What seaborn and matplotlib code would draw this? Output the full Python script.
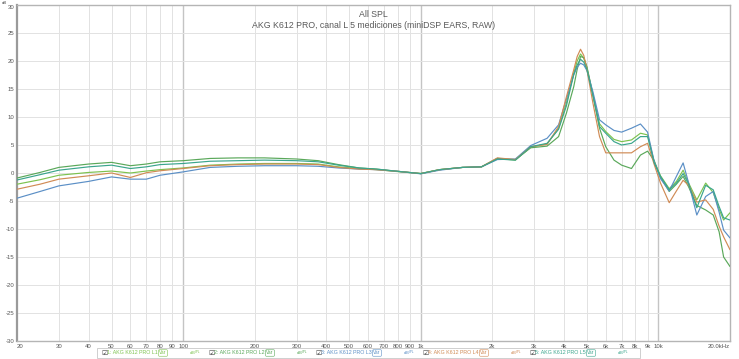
import numpy as np
import pandas as pd
import matplotlib
matplotlib.use("Agg")
import matplotlib.pyplot as plt
import seaborn as sns
from matplotlib.patches import Rectangle

# ---------------- data ----------------
freqs = [20, 25, 30, 40, 50, 60, 70, 80, 100, 130, 170, 220, 300, 370, 450, 550, 650, 800,
         1000, 1200, 1500, 1800, 2100, 2500, 2900, 3400, 3800, 4100, 4400, 4550, 4700, 4850,
         5000, 5300, 5650, 6000, 6500, 7000, 7700, 8400, 9000, 9600,
         10200, 11100, 11900, 12700, 13400, 14500, 15800, 17000, 18000, 18800, 20000]

l1 = [-2.0, -1.2, -0.4, 0.1, 0.35, 0.0, 0.35, 0.6, 0.9, 1.4, 1.6, 1.7, 1.7, 1.6, 1.1, 0.8, 0.6, 0.25,
      -0.1, 0.6, 1.0, 1.1, 2.6, 2.3, 4.6, 5.2, 8.0, 12.5, 17.8, 20.0, 21.25, 20.5,
      18.8, 14.0, 8.8, 7.4, 6.0, 5.6, 5.9, 7.1, 6.8, 2.0,
      -0.5, -2.8, -1.5, 0.5, -1.8, -4.8, -1.8, -3.5, -6.5, -8.4, -7.1]
l2 = [-0.9, 0.1, 1.0, 1.6, 1.9, 1.3, 1.6, 2.0, 2.2, 2.6, 2.7, 2.7, 2.5, 2.2, 1.5, 0.9, 0.7, 0.3,
      -0.1, 0.6, 1.0, 1.1, 2.6, 2.4, 4.5, 4.8, 6.5, 10.7, 15.4, 18.5, 20.8, 20.6,
      19.0, 14.0, 8.0, 4.7, 2.3, 1.4, 0.8, 3.2, 3.9, 2.2,
      -0.8, -3.3, -2.0, -0.6, -2.5, -5.8, -6.6, -7.5, -10.5, -15.0, -16.7]
l3 = [-4.5, -3.3, -2.3, -1.5, -0.7, -1.1, -1.1, -0.4, 0.2, 1.0, 1.2, 1.3, 1.3, 1.2, 0.9, 0.7, 0.6, 0.3,
      -0.15, 0.5, 1.0, 1.1, 2.4, 2.5, 4.9, 6.2, 8.6, 13.2, 17.5, 18.9, 19.6, 19.3,
      18.3, 14.5, 9.5, 8.6, 7.6, 7.3, 8.0, 8.75, 7.3, 2.0,
      -1.0, -3.2, -0.6, 1.8, -1.8, -7.5, -4.2, -3.3, -7.0, -10.2, -11.6]
l4 = [-2.9, -2.0, -1.1, -0.5, 0.0, -0.8, 0.05, 0.4, 0.8, 1.3, 1.5, 1.6, 1.6, 1.5, 1.0, 0.7, 0.6, 0.3,
      -0.1, 0.6, 1.0, 1.1, 2.7, 2.4, 4.7, 5.1, 8.3, 13.6, 18.4, 20.8, 22.1, 21.0,
      18.5, 12.5, 6.5, 3.6, 3.6, 3.6, 3.6, 4.7, 5.3, 1.5,
      -1.8, -5.3, -3.2, -1.3, -2.2, -5.2, -4.8, -6.5, -9.5, -11.4, -13.7]
l5 = [-1.25, -0.3, 0.5, 1.1, 1.4, 0.8, 1.1, 1.5, 1.7, 2.1, 2.2, 2.3, 2.2, 2.0, 1.4, 0.9, 0.7, 0.3,
      -0.1, 0.6, 1.0, 1.1, 2.5, 2.3, 4.7, 5.3, 7.8, 12.0, 17.6, 19.3, 20.3, 19.8,
      18.5, 13.8, 8.3, 7.1, 5.6, 5.0, 5.3, 6.5, 6.5, 1.8,
      -0.6, -3.0, -1.8, -0.1, -2.0, -6.2, -2.2, -3.0, -6.0, -8.0, -8.4]

series_names = ["1: AKG K612 PRO L1", "2: AKG K612 PRO L2", "3: AKG K612 PRO L3",
                "4: AKG K612 PRO L4", "5: AKG K612 PRO L5"]
series_colors = ["#7cc24e", "#5aa85a", "#5b8fc6", "#d08b55", "#3aa58c"]

xtick_vals = [20, 30, 40, 50, 60, 70, 80, 90, 100, 200, 300, 400, 500, 600, 700, 800, 900,
              1000, 2000, 3000, 4000, 5000, 6000, 7000, 8000, 9000, 10000, 20000]
xtick_labels = ["20", "30", "40", "50", "60", "70", "80", "90", "100", "200", "300", "400", "500",
                "600", "700", "800", "900", "1k", "2k", "3k", "4k", "5k", "6k", "7k", "8k", "9k",
                "10k", "20.0kHz"]
ytick_vals = [30, 25, 20, 15, 10, 5, 0, -5, -10, -15, -20, -25, -30]

title1 = "All SPL"
title2 = "AKG K612 PRO, canal L 5 mediciones (miniDSP EARS, RAW)"

# ---------------- build table ----------------
rows = []
for name, vals in zip(series_names, [l1, l2, l3, l4, l5]):
    for f, v in zip(freqs, vals):
        rows.append({"freq": f, "spl": v, "series": name})
df = pd.DataFrame(rows)

sns.set_theme(style="white")
plt.rcParams["font.family"] = ["Liberation Sans", "DejaVu Sans"]
plt.rcParams["axes.unicode_minus"] = False

fig = plt.figure(figsize=(7.39, 3.59), dpi=100)
ax = fig.add_axes([17 / 739, 1 - 341 / 359, (730 - 17) / 739, (341 - 5) / 359])

# grid
for xv in xtick_vals:
    if xv in (100, 1000, 10000):
        ax.axvline(xv, color="#c4c4c4", lw=1.0, zorder=0)
    else:
        ax.axvline(xv, color="#e2e2e2", lw=0.7, zorder=0)
for yv in ytick_vals:
    ax.axhline(yv, color="#e2e2e2", lw=0.7, zorder=0)

sns.lineplot(data=df, x="freq", y="spl", hue="series", hue_order=series_names,
             palette=series_colors, linewidth=0.85, legend=False, errorbar=None,
             ax=ax, zorder=3)

ax.set_xscale("log")
ax.set_xlim(20, 20000)
ax.set_ylim(-30, 30)
ax.set_xlabel("")
ax.set_ylabel("")
ax.set_xticks(xtick_vals)
ax.set_xticklabels(xtick_labels)
ax.xaxis.set_minor_locator(matplotlib.ticker.NullLocator())
ax.set_yticks(ytick_vals)
ax.set_yticklabels([str(v) for v in ytick_vals])
ax.tick_params(axis="both", length=0, labelsize=4.3, colors="#555555", pad=2)
labs = ax.get_xticklabels()
labs[-1].set_ha("right")
labs[0].set_ha("left")
ylabs = ax.get_yticklabels()
ylabs[0].set_va("top")

for s in ["top", "right", "bottom"]:
    ax.spines[s].set_color("#b5b5b5")
    ax.spines[s].set_linewidth(1.0)
ax.spines["left"].set_color("#9a9a9a")
ax.spines["left"].set_linewidth(1.6)

ax.text(0.5, 0.985, title1, transform=ax.transAxes, ha="center", va="top",
        fontsize=6.3, color="#5a5a5a")
ax.text(0.5, 0.953, title2, transform=ax.transAxes, ha="center", va="top",
        fontsize=6.3, color="#5a5a5a")
fig.text(5 / 739, 1 - 0.5 / 359, "dB", fontsize=3.2, color="#555555", ha="center", va="top")

# legend strip
fig.patches.append(Rectangle((97 / 739, 1 - 358 / 359), 543 / 739, 10.5 / 359,
                             transform=fig.transFigure, facecolor="white",
                             edgecolor="#c8c8c8", lw=0.6))
ly = 1 - 353 / 359
for i, (name, col) in enumerate(zip(series_names, series_colors)):
    x0 = 101 + 107 * i
    fig.text(x0 / 739, ly, "\u2611", fontsize=5, color="#444444", ha="left", va="center",
             family=["DejaVu Sans"])
    fig.text((x0 + 6) / 739, ly, name, fontsize=3.8, color=col, ha="left", va="center")
    fig.text((x0 + 62) / 739, ly, "Var", fontsize=3.5, color=col, ha="center", va="center",
             bbox=dict(boxstyle="round,pad=0.15", fc="white", ec=col, lw=0.4))
    fig.text((x0 + 88) / 739, ly, "dB$^{SPL}$", fontsize=3.0, color=col, ha="left", va="center")

fig.savefig("out.png", dpi=100, facecolor="white")
